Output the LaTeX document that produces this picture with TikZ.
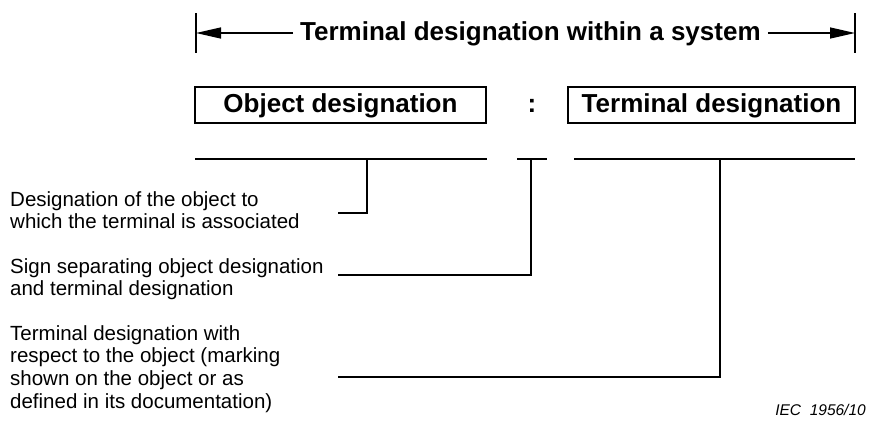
\documentclass[tikz,border=0pt]{standalone}
\usepackage{fontspec}
\setmainfont{Liberation Sans}
\usetikzlibrary{arrows.meta}
\begin{document}
\begin{tikzpicture}[x=1pt,y=-1pt,
  ln/.style={line width=1.4pt},
  dimtip/.style={-{Triangle[length=25pt,width=11pt]}, line width=1.4pt},
  boxnode/.style={draw, line width=1.4pt, inner sep=0pt, text height=19pt, text depth=5pt,
    font=\fontsize{26}{30}\selectfont\bfseries},
  titletext/.style={inner xsep=7pt, inner ysep=0pt, font=\fontsize{26}{30}\selectfont\bfseries},
  desc/.style={anchor=north west, inner sep=0pt, align=left, font=\fontsize{20.5}{22.8}\selectfont}]
\useasboundingbox (0,0) rectangle (882,424);
% dimension line
\coordinate (lbt) at (196,13);
\coordinate (lbb) at (196,53);
\coordinate (rbt) at (855,13);
\coordinate (rbb) at (855,53);
\coordinate (la) at (196,33);
\coordinate (ra) at (855,33);
\draw[ln] (lbt) -- (lbb);
\draw[ln] (rbt) -- (rbb);
\node[titletext, anchor=base west] (title) at (293,40) {Terminal designation within a system};
\draw[dimtip] (title.west |- la) -- (la);
\draw[dimtip] (title.east |- ra) -- (ra);
% boxes
\node[boxnode, minimum width=291pt, minimum height=36pt] (obj) at (340.5,105) {Object designation};
\node[font=\fontsize{26}{30}\selectfont\bfseries, anchor=base, inner sep=0pt] (colon) at (532,112) {:};
\node[boxnode, minimum width=287pt, minimum height=36pt] (term) at (711.5,105) {Terminal designation};
% underlines
\coordinate (s1a) at (195,159);
\coordinate (s1b) at (487,159);
\coordinate (s2a) at (517,159);
\coordinate (s2b) at (547,159);
\coordinate (s3a) at (574,159);
\coordinate (s3b) at (855,159);
\draw[ln] (s1a) -- (s1b);
\draw[ln] (s2a) -- (s2b);
\draw[ln] (s3a) -- (s3b);
% descriptions
\node[desc] (d1) at (10,191) {Designation of the object to\\which the terminal is associated};
\node[desc] (d2) at (10,258) {Sign separating object designation\\and terminal designation};
\node[desc] (d3) at (10,325) {Terminal designation with\\respect to the object (marking\\shown on the object or as\\defined in its documentation)};
% leaders
\coordinate (j1) at (367,159);
\coordinate (e1) at (338,213);
\coordinate (j2) at (531,159);
\coordinate (e2) at (338,275);
\coordinate (j3) at (720,159);
\coordinate (e3) at (338,377);
\draw[ln] (j1) |- (e1);
\draw[ln] (j2) |- (e2);
\draw[ln] (j3) |- (e3);
% reference
\node[anchor=base east, inner sep=0pt, font=\fontsize{15.5}{18}\selectfont\itshape] (iec) at (866,415) {IEC\ \ 1956/10};
\end{tikzpicture}
\end{document}
